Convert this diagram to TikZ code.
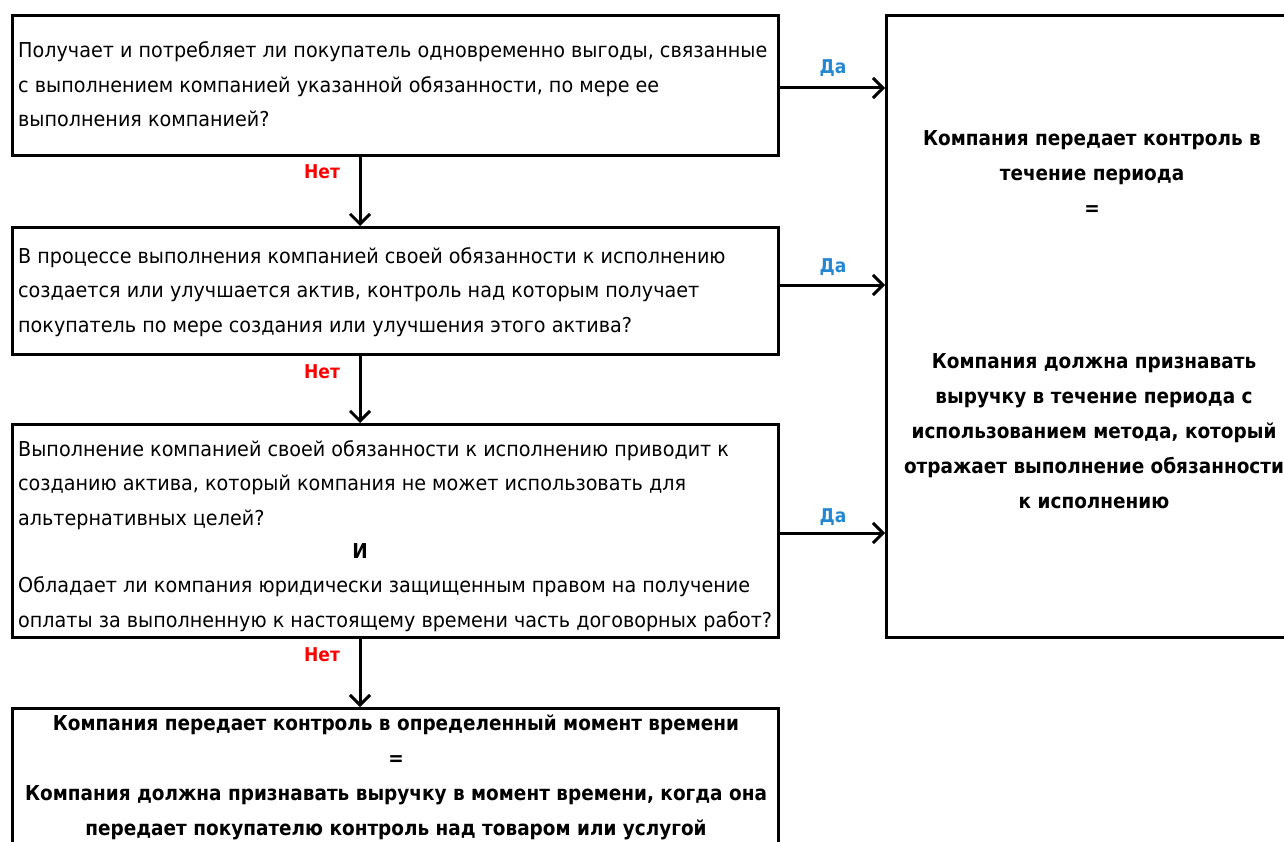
\documentclass[tikz,border=0pt]{standalone}
\usepackage{fontspec}
\setmainfont{DejaVu Sans}[UprightFeatures={FakeStretch=0.935},BoldFeatures={FakeStretch=0.90}]
\usetikzlibrary{arrows.meta}
\definecolor{yescol}{RGB}{35,135,210}
\definecolor{nocol}{RGB}{255,0,0}
\tikzset{
 box/.style={draw=black, line width=3pt, inner sep=0pt, anchor=north west},
 q/.style={align=left, anchor=west, inner sep=0pt, font=\fontsize{20.5}{34.5}\selectfont},
 ans/.style={align=center, inner sep=0pt, font=\bfseries\fontsize{20.5}{35}\selectfont},
 flow/.style={line width=3pt, -{Straight Barb[length=10pt,width=20pt]}},
 yes/.style={text=yescol, font=\bfseries\fontsize{19}{20}\selectfont, inner sep=0pt},
 no/.style={text=nocol, font=\bfseries\fontsize{19}{20}\selectfont, inner sep=0pt},
}
\begin{document}
\begin{tikzpicture}[x=1pt,y=-1pt]
\useasboundingbox (0,0) rectangle (1284,842);
\clip (0,0) rectangle (1284,842);
% boxes
\node[box, minimum width=766pt, minimum height=140pt] (b1) at (11,14) {};
\node[box, minimum width=766pt, minimum height=127pt] (b2) at (11,226) {};
\node[box, minimum width=766pt, minimum height=213pt] (b3) at (11,423) {};
\node[box, minimum width=766pt, minimum height=200pt] (b4) at (11,707) {};
\node[box, minimum width=460pt, minimum height=622pt] (R) at (885,14) {};
% helper coordinates
\coordinate (xa) at (360,0);
\coordinate (ya1) at (0,88);
\coordinate (ya2) at (0,285);
\coordinate (ya3) at (0,533);
% texts
\node[q] (t1) at (18,84.5) {Получает и потребляет ли покупатель одновременно выгоды, связанные\\с выполнением компанией указанной обязанности, по мере ее\\выполнения компанией?};
\node[q] (t2) at (18,292) {В процессе выполнения компанией своей обязанности к исполнению\\создается или улучшается актив, контроль над которым получает\\покупатель по мере создания или улучшения этого актива?};
\node[q] (t3a) at (18,485) {Выполнение компанией своей обязанности к исполнению приводит к\\созданию актива, который компания не может использовать для\\альтернативных целей?};
\node[ans] (t3i) at (360,551) {И};
\node[q] (t3b) at (18,604) {Обладает ли компания юридически защищенным правом на получение\\оплаты за выполненную к настоящему времени часть договорных работ?};
\node[ans] (t4) at (396,777) {Компания передает контроль в определенный момент времени\\=\\Компания должна признавать выручку в момент времени, когда она\\передает покупателю контроль над товаром или услугой};
\node[ans] (r1) at (1092,173.5) {Компания передает контроль в\\течение периода\\=};
\node[ans] (r2) at (1094,431.5) {Компания должна признавать\\выручку в течение периода с\\использованием метода, который\\отражает выполнение обязанности\\к исполнению};
% connectors
\draw[flow] (b1.south -| xa) -- (b2.north -| xa);
\draw[flow] (b2.south -| xa) -- (b3.north -| xa);
\draw[flow] (b3.south -| xa) -- (b4.north -| xa);
\draw[flow] (b1.east |- ya1) -- (R.west |- ya1);
\draw[flow] (b2.east |- ya2) -- (R.west |- ya2);
\draw[flow] (b3.east |- ya3) -- (R.west |- ya3);
% labels
\node[no] (n1) at (322,172) {Нет};
\node[no] (n2) at (322,372) {Нет};
\node[no] (n3) at (322,655) {Нет};
\node[yes] (y1) at (833,68) {Да};
\node[yes] (y2) at (833,267) {Да};
\node[yes] (y3) at (833,517) {Да};
\end{tikzpicture}
\end{document}
